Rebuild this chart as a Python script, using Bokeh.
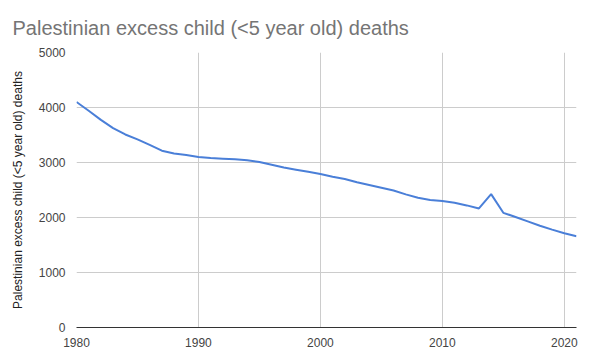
from bokeh.plotting import figure
from bokeh.models import Range1d, FixedTicker
from bokeh.embed import file_html
from bokeh.resources import INLINE

years = list(range(1980, 2022))
deaths = [4100, 3940, 3775, 3625, 3510, 3420, 3320, 3215, 3165, 3135,
          3100, 3080, 3070, 3060, 3040, 3010, 2960, 2910, 2870, 2830,
          2790, 2740, 2700, 2640, 2590, 2540, 2490, 2420, 2360, 2320,
          2300, 2270, 2220, 2165, 2425, 2085, 2010, 1930, 1850, 1780,
          1715, 1660]
x_ticks = [1980, 1990, 2000, 2010, 2020]
y_ticks = [0, 1000, 2000, 3000, 4000, 5000]
title_text = "Palestinian excess child (<5 year old) deaths"
y_label = "Palestinian excess child (<5 year old) deaths"

FONT = "Liberation Sans"

p = figure(width=591, height=352, output_backend="svg", toolbar_location=None,
           x_range=Range1d(1980, 2021), y_range=Range1d(0, 5000),
           title=title_text,
           min_border_left=76, min_border_right=15, min_border_top=52,
           min_border_bottom=25)
p.outline_line_color = None
p.background_fill_color = "white"
p.border_fill_color = "white"

p.title.text_font = FONT
p.title.text_font_size = "20px"
p.title.text_font_style = "normal"
p.title.text_color = "#757575"
p.title.offset = -64
p.title.standoff = 28

p.line(years, deaths, line_color="#4a7fd8", line_width=2)

p.xaxis.ticker = FixedTicker(ticks=x_ticks)
p.yaxis.ticker = FixedTicker(ticks=y_ticks)
p.xaxis.minor_tick_line_color = None
p.yaxis.minor_tick_line_color = None
p.xaxis.major_tick_line_color = None
p.yaxis.major_tick_line_color = None
p.yaxis.axis_line_color = None
p.xaxis.axis_line_color = "#333333"
p.xaxis.axis_line_width = 1
for ax in (p.xaxis, p.yaxis):
    ax.major_label_text_font = FONT
    ax.major_label_text_font_size = "12px"
    ax.major_label_text_color = "#444444"
p.xaxis.major_label_standoff = 4
p.yaxis.major_label_standoff = 5

p.yaxis.axis_label = y_label
p.yaxis.axis_label_text_font = FONT
p.yaxis.axis_label_text_font_size = "12px"
p.yaxis.axis_label_text_font_style = "normal"
p.yaxis.axis_label_text_color = "#222222"
p.yaxis.axis_label_standoff = 11

p.xgrid.ticker = FixedTicker(ticks=x_ticks)
p.ygrid.ticker = FixedTicker(ticks=y_ticks)
p.xgrid.grid_line_color = "#cccccc"
p.ygrid.grid_line_color = "#cccccc"

open("out.html", "w").write(file_html(p, INLINE))
